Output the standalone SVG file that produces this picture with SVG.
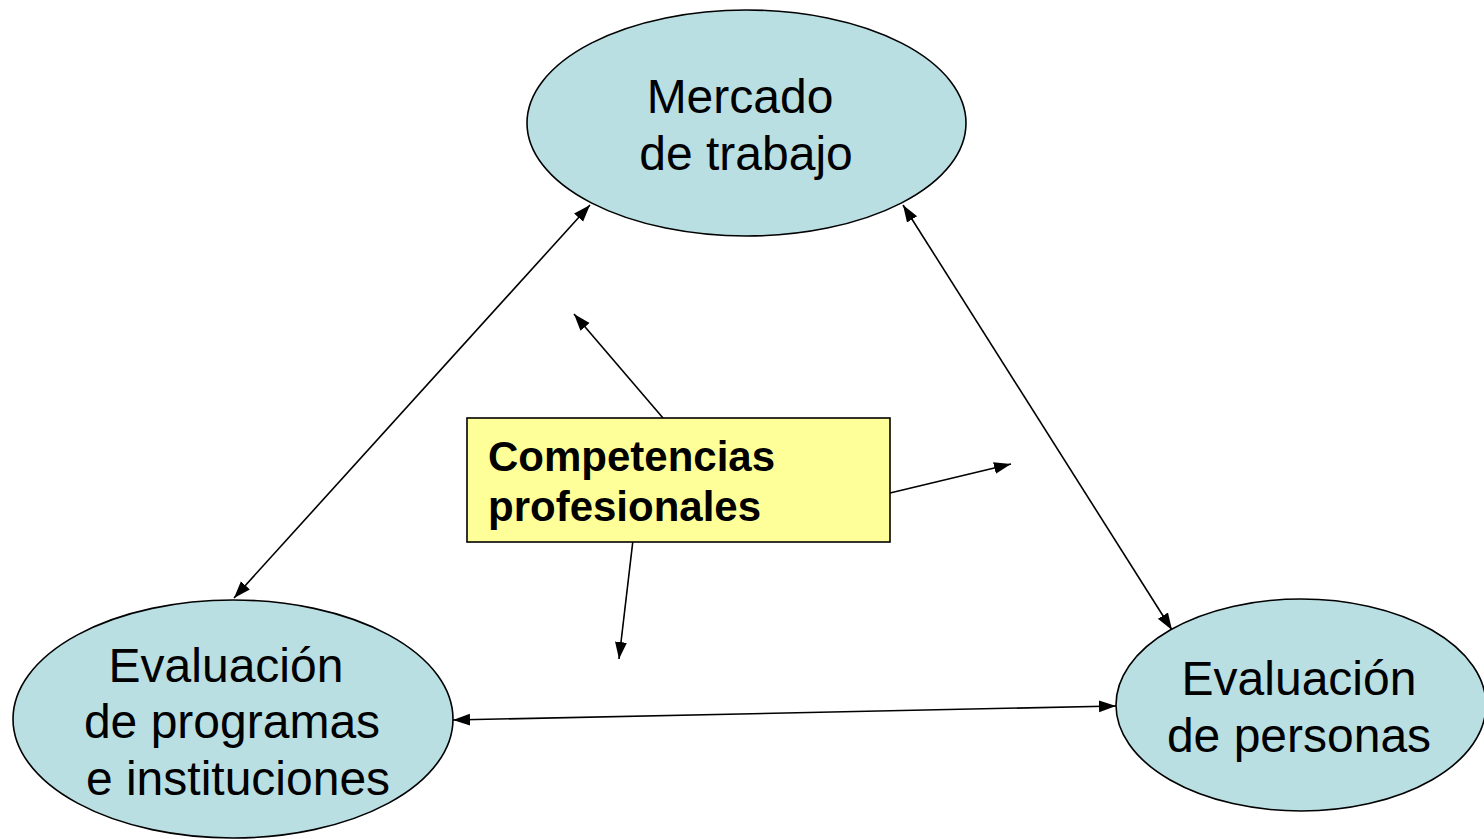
<svg xmlns="http://www.w3.org/2000/svg" width="1484" height="839" viewBox="0 0 1484 839">
<defs>
<marker id="ah" markerUnits="userSpaceOnUse" markerWidth="18" markerHeight="14" viewBox="0 0 18 14" refX="17" refY="7" orient="auto-start-reverse">
<path d="M0,1 L17,7 L0,13 Z" fill="#000"/>
</marker>
<style>
.node{fill:#B9DFE3;stroke:#000;stroke-width:1.6}
.lbl{font-family:"Liberation Sans",Arial,sans-serif;font-size:48px;fill:#000}
.box{fill:#FFFF99;stroke:#000;stroke-width:1.6}
.blbl{font-family:"Liberation Sans",Arial,sans-serif;font-size:42px;font-weight:bold;fill:#000}
.con{stroke:#000;stroke-width:1.6;fill:none}
</style>
</defs>
<rect width="1484" height="839" fill="#fff"/>
<g id="connectors">
<line class="con" x1="590" y1="205" x2="234" y2="598" marker-start="url(#ah)" marker-end="url(#ah)"/>
<line class="con" x1="903" y1="205" x2="1172" y2="630" marker-start="url(#ah)" marker-end="url(#ah)"/>
<line class="con" x1="453" y1="720" x2="1116" y2="706" marker-start="url(#ah)" marker-end="url(#ah)"/>
<line class="con" x1="663" y1="418" x2="574" y2="314" marker-end="url(#ah)"/>
<line class="con" x1="890" y1="493" x2="1011" y2="464" marker-end="url(#ah)"/>
<line class="con" x1="633" y1="540" x2="619" y2="659" marker-end="url(#ah)"/>
</g>
<g id="mercado">
<ellipse class="node" cx="746.5" cy="123" rx="219.5" ry="113"/>
<text class="lbl" x="740" y="113" text-anchor="middle">Mercado</text>
<text class="lbl" x="746" y="170" text-anchor="middle">de trabajo</text>
</g>
<g id="programas">
<ellipse class="node" cx="233" cy="719" rx="220" ry="119"/>
<text class="lbl" x="226" y="682" text-anchor="middle">Evaluación</text>
<text class="lbl" x="232" y="738" text-anchor="middle">de programas</text>
<text class="lbl" x="238" y="795" text-anchor="middle">e instituciones</text>
</g>
<g id="personas">
<ellipse class="node" cx="1301" cy="705" rx="185" ry="106"/>
<text class="lbl" x="1299" y="695" text-anchor="middle">Evaluación</text>
<text class="lbl" x="1299" y="752" text-anchor="middle">de personas</text>
</g>
<g id="competencias">
<rect class="box" x="467" y="418" width="423" height="124"/>
<text class="blbl" x="488" y="471">Competencias</text>
<text class="blbl" x="488" y="521">profesionales</text>
</g>
</svg>
